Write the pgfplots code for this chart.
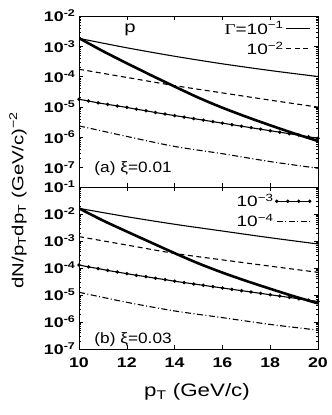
\documentclass[border=0pt]{standalone}
\usepackage{fontspec}
\setmainfont{Liberation Sans}
\newfontfamily\serif{Liberation Serif}
\usepackage{graphicx}
\usepackage{pgfplots}
\pgfplotsset{compat=1.18}
\newcommand\W[1]{\scalebox{1.27}[1]{#1}}

\pgfplotsset{
  /pgfplots/panelax/.style={
    scale only axis, width=239pt, xmin=10, xmax=20, xtick={10,12,...,20},
    axis line style={line width=0.6pt},
    major tick length=4pt, minor tick length=2pt,
    tick style={black, line width=0.5pt},
    xticklabel style={font=\fontsize{14}{14}\selectfont\bfseries, yshift=-5pt},
    yticklabel style={font=\fontsize{14}{14}\selectfont\bfseries},
    xticklabel={\W{\pgfmathprintnumber[assume math mode=true]{\tick}}},
    log number format basis/.code 2 args={\W{10\textsuperscript{\pgfmathprintnumber[assume math mode=true]{##2}}}},
    legend plot pos=right, legend cell align=right,
    legend style={draw=none, fill=none, font=\fontsize{15}{15}\selectfont, row sep=2pt, inner sep=1pt},
  },
  /pgfplots/lsolid/.style={black, line width=1.1pt, smooth},
  /pgfplots/ldash/.style={black, line width=1.1pt, smooth, dash pattern=on 5pt off 3.5pt},
  /pgfplots/ldd/.style={black, line width=1.1pt, smooth, dash pattern=on 6pt off 2.5pt on 1pt off 2.5pt},
  /pgfplots/ldots/.style={black, line width=1.1pt, mark=*, mark size=1.1pt},
  /pgfplots/lthick/.style={black, line width=2.6pt, smooth},
}

\begin{document}
\begin{tikzpicture}
\useasboundingbox (-79pt,-66pt) rectangle (253pt,349pt);

% (a) xi = 0.01
\begin{axis}[ymode=log, panelax, at={(0,162pt)}, anchor=south west, height=171pt,
  ymin=2.24e-8, ymax=1e-2, ytickten={-7,...,-2}, xticklabels={,,,,,},
  legend style={at={(rel axis cs:0.975,0.985)}, anchor=north east},
  legend image code/.code={\draw[#1] (0pt,0pt) -- (24pt,0pt);}]
\addplot[lsolid] coordinates {(10,1.82e-3) (12,8.91e-4) (14,4.68e-4) (16,2.63e-4) (18,1.58e-4) (20,1.00e-4)};
\addlegendentry{\W{{\serif Γ}=10\textsuperscript{−1}}}
\addplot[ldash] coordinates {(10,1.74e-4) (12,9.33e-5) (14,5.01e-5) (16,2.88e-5) (18,1.66e-5) (20,9.77e-6)};
\addlegendentry{\W{10\textsuperscript{−2}}}
\addplot[ldots, forget plot] coordinates {
  (10.0,1.78e-5) (10.4,1.55e-5) (10.8,1.35e-5) (11.2,1.20e-5) (11.6,1.07e-5)
  (12.0,9.55e-6) (12.4,8.32e-6) (12.8,7.41e-6) (13.2,6.46e-6) (13.6,5.75e-6)
  (14.0,5.13e-6) (14.4,4.57e-6) (14.8,4.07e-6) (15.2,3.63e-6) (15.6,3.24e-6)
  (16.0,2.88e-6) (16.4,2.57e-6) (16.8,2.29e-6) (17.2,2.04e-6) (17.6,1.82e-6)
  (18.0,1.62e-6) (18.4,1.45e-6) (18.8,1.29e-6) (19.2,1.15e-6) (19.6,1.02e-6)
  (20.0,9.12e-7)};
\addplot[ldd, forget plot] coordinates {(10,2.34e-6) (12,1.05e-6) (14,4.90e-7) (16,2.82e-7) (18,1.55e-7) (20,9.33e-8)};
\addplot[lthick, forget plot] coordinates {(10,1.86e-3) (11,6.92e-4) (12,2.75e-4) (13,1.12e-4) (14,4.68e-5) (15,2.00e-5) (16,9.33e-6) (17,4.68e-6) (18,2.45e-6) (19,1.32e-6) (20,7.41e-7)};
\node[font=\fontsize{16}{16}\selectfont] at (rel axis cs:0.213,0.918) {\W{p}};
\node[anchor=west, font=\fontsize{15}{15}\selectfont] at (rel axis cs:0.05,0.105) {\scalebox{1.15}[1]{(a) ξ=0.01}};
\end{axis}

% (b) xi = 0.03
\begin{axis}[ymode=log, panelax, at={(0,0)}, anchor=south west, height=162pt,
  ymin=1e-7, ymax=1e-1, ytickten={-7,...,-1},
  legend style={at={(rel axis cs:0.975,0.975)}, anchor=north east},
  legend image code/.code={\draw[#1,mark=none] (0pt,0pt) -- (33pt,0pt);
    \draw[#1,only marks] plot coordinates {(0pt,0pt) (11pt,0pt) (22pt,0pt) (33pt,0pt)};}]
\addplot[lsolid, forget plot] coordinates {(10,1.62e-2) (12,7.94e-3) (14,4.17e-3) (16,2.34e-3) (18,1.32e-3) (20,7.76e-4)};
\addplot[ldash, forget plot] coordinates {(10,1.45e-3) (12,7.08e-4) (14,3.47e-4) (16,2.00e-4) (18,1.17e-4) (20,6.92e-5)};
\addplot[ldots] coordinates {
  (10.0,1.29e-4) (10.4,1.10e-4) (10.8,9.55e-5) (11.2,8.13e-5) (11.6,7.08e-5)
  (12.0,6.17e-5) (12.4,5.37e-5) (12.8,4.79e-5) (13.2,4.17e-5) (13.6,3.72e-5)
  (14.0,3.24e-5) (14.4,2.88e-5) (14.8,2.57e-5) (15.2,2.29e-5) (15.6,2.04e-5)
  (16.0,1.82e-5) (16.4,1.62e-5) (16.8,1.45e-5) (17.2,1.29e-5) (17.6,1.15e-5)
  (18.0,1.02e-5) (18.4,9.12e-6) (18.8,8.13e-6) (19.2,7.24e-6) (19.6,6.46e-6)
  (20.0,5.75e-6)};
\addlegendentry{\W{10\textsuperscript{−3}}}
\addplot[ldd] coordinates {(10,1.26e-5) (12,5.37e-6) (14,2.57e-6) (16,1.45e-6) (18,8.13e-7) (20,5.01e-7)};
\addlegendentry{\W{10\textsuperscript{−4}}}
\addplot[lthick, forget plot] coordinates {(10,1.62e-2) (11,5.75e-3) (12,2.24e-3) (13,8.91e-4) (14,3.55e-4) (15,1.48e-4) (16,6.76e-5) (17,3.31e-5) (18,1.70e-5) (19,8.91e-6) (20,4.90e-6)};
\node[anchor=west, font=\fontsize{15}{15}\selectfont] at (rel axis cs:0.05,0.06) {\scalebox{1.15}[1]{(b) ξ=0.03}};
\end{axis}

\node[rotate=90, font=\fontsize{16}{16}\selectfont] at (-61pt,149pt) {\W{dN/p\textsubscript{T}dp\textsubscript{T} (GeV/c)\textsuperscript{−2}}};
\node[font=\fontsize{18}{18}\selectfont] at (118pt,-43pt) {\scalebox{1.24}[1]{p\textsubscript{T} (GeV/c)}};
\end{tikzpicture}
\end{document}
